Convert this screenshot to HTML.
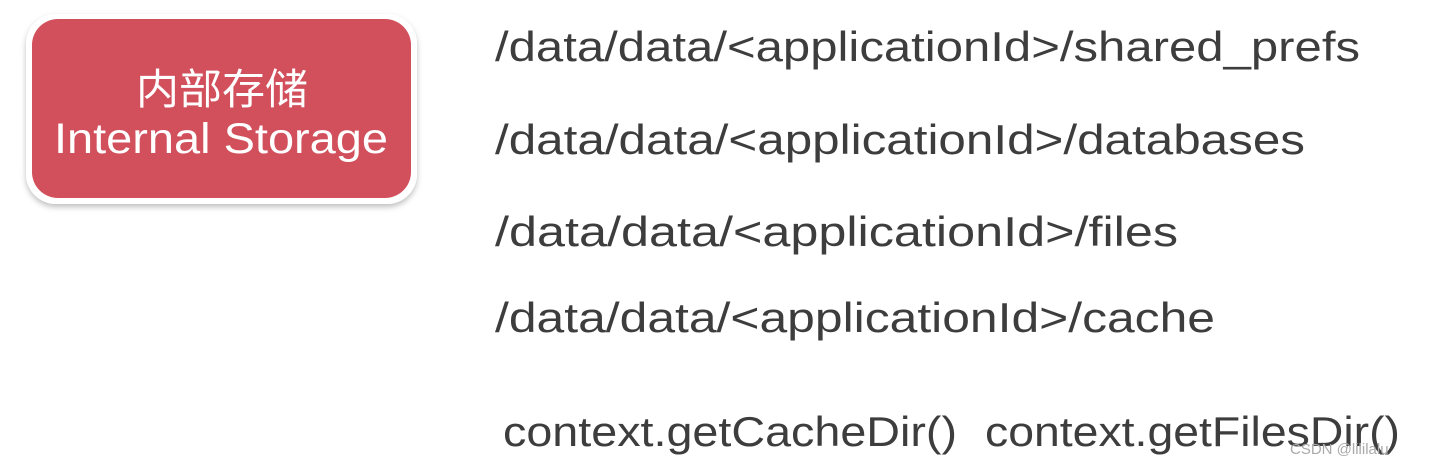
<!DOCTYPE html>
<html><head><meta charset="utf-8"><style>
html,body{margin:0;padding:0;background:#fff;width:1433px;height:465px;overflow:hidden}
</style></head><body>
<svg width="1433" height="465" xmlns="http://www.w3.org/2000/svg">
<defs><filter id="sh" x="-10%" y="-10%" width="120%" height="130%"><feDropShadow dx="0" dy="3" stdDeviation="3" flood-color="#000" flood-opacity="0.25"/></filter></defs>
<rect x="26" y="14" width="391" height="190" rx="30" fill="#fff" filter="url(#sh)"/>
<rect x="32" y="19" width="379" height="179" rx="26" fill="#d24f5c"/>
<g fill="#fff" font-family="Liberation Sans, Noto Sans CJK SC, sans-serif" text-anchor="middle">
<text x="222" y="104" font-size="42" textLength="172" lengthAdjust="spacingAndGlyphs">内部存储</text>
<text x="221" y="153" font-size="43" textLength="334" lengthAdjust="spacingAndGlyphs">Internal Storage</text>
</g>
<g fill="#3d3d3d" font-family="Liberation Sans, sans-serif" font-size="42">
<text x="495" y="61" textLength="865" lengthAdjust="spacingAndGlyphs">/data/data/&lt;applicationId&gt;/shared_prefs</text>
<text x="495" y="154" textLength="810" lengthAdjust="spacingAndGlyphs">/data/data/&lt;applicationId&gt;/databases</text>
<text x="495" y="246" textLength="683" lengthAdjust="spacingAndGlyphs">/data/data/&lt;applicationId&gt;/files</text>
<text x="495" y="332" textLength="720" lengthAdjust="spacingAndGlyphs">/data/data/&lt;applicationId&gt;/cache</text>
<text x="503" y="446" textLength="454" lengthAdjust="spacingAndGlyphs">context.getCacheDir()</text>
<text x="985" y="446" textLength="415" lengthAdjust="spacingAndGlyphs">context.getFilesDir()</text>
</g>
<text x="1290" y="454" font-family="Liberation Sans, sans-serif" font-size="15" fill="#aaa">CSDN @lililalu</text>
</svg>
</body></html>
